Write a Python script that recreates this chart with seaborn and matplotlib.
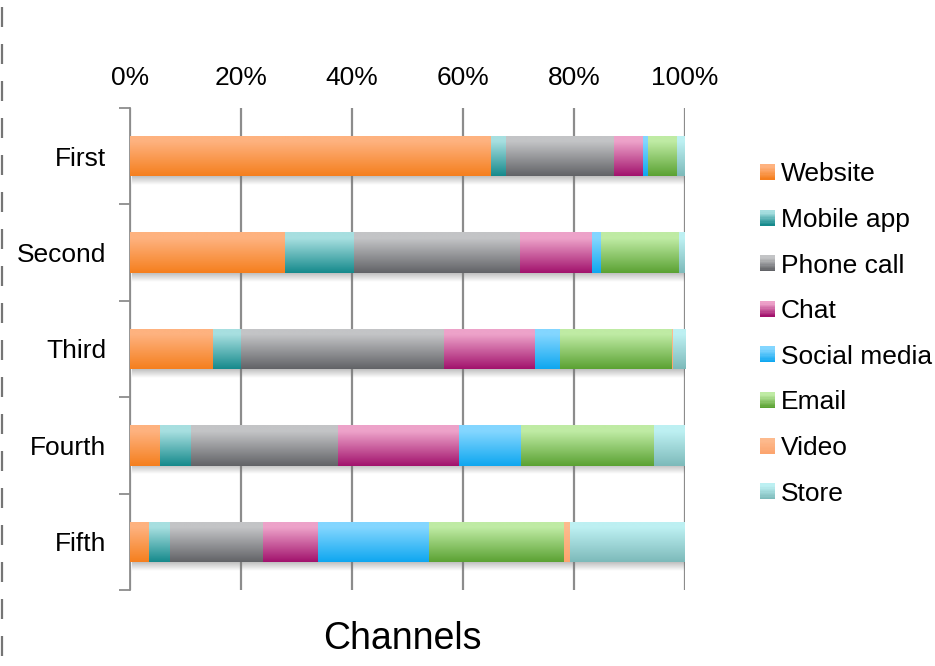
import numpy as np
import pandas as pd
import matplotlib
matplotlib.use("Agg")
import matplotlib.pyplot as plt
import seaborn as sns
from matplotlib.colors import to_rgb
from matplotlib.patches import Rectangle
from matplotlib.legend_handler import HandlerBase
from matplotlib.lines import Line2D

# Share of contacts per channel (%), by contact order
ranks = ["First", "Second", "Third", "Fourth", "Fifth"]
channels = ["Website", "Mobile app", "Phone call", "Chat", "Social media",
            "Email", "Video", "Store"]
website = [65.0, 27.8, 14.9, 5.3, 3.3]
mobile_app = [2.7, 12.5, 5.0, 5.6, 3.8]
phone_call = [19.5, 29.8, 36.6, 26.4, 16.8]
chat = [5.1, 13.1, 16.4, 21.9, 9.8]
social_media = [1.0, 1.6, 4.4, 11.1, 20.0]
email = [5.2, 14.1, 20.2, 24.1, 24.4]
video = [0.0, 0.0, 0.2, 0.0, 1.0]
store = [1.5, 1.1, 2.3, 5.6, 20.9]
ticks = [0, 20, 40, 60, 80, 100]

series = [website, mobile_app, phone_call, chat, social_media, email, video, store]

# (top, bottom) colours of each channel's vertical gradient
gradients = {
    "Website": ("#FEB27F", "#F57F1E"),
    "Mobile app": ("#A7DFE0", "#168A8C"),
    "Phone call": ("#C3C4C6", "#626367"),
    "Chat": ("#EDA2C9", "#A2136D"),
    "Social media": ("#83D6FF", "#0FA7F0"),
    "Email": ("#BFEBA4", "#5BA233"),
    "Video": ("#FDBA8D", "#FCA56F"),
    "Store": ("#BDF0F2", "#7DBABA"),
}

df = pd.DataFrame({c: v for c, v in zip(channels, series)}, index=ranks)
cum = df.cumsum(axis=1)

sns.set_theme(style="white")
plt.rcParams["font.family"] = ["Liberation Sans", "DejaVu Sans"]
plt.rcParams["text.color"] = "black"

fig = plt.figure(figsize=(9.35, 6.66), dpi=100)
ax = fig.add_axes([130 / 935, 1 - 590 / 666, 555 / 935, 482 / 666])

BAR_W = 0.42


def grad_array(top, bottom, n=64):
    t = np.linspace(0, 1, n)[:, None]
    t = np.clip((t - 0.15) / 0.85, 0, 1)
    a = np.array(to_rgb(top))
    b = np.array(to_rgb(bottom))
    return (a * (1 - t) + b * t)[:, None, :]


# soft shadow under each bar
for i, r in enumerate(ranks):
    yb = i + BAR_W / 2
    sh = np.zeros((32, 1, 4))
    sh[:, 0, :3] = 0.45
    sh[:, 0, 3] = np.linspace(0.45, 0.0, 32)
    ax.imshow(sh, extent=(0.4, cum.loc[r].iloc[-1] + 0.6, yb + 0.09, yb),
              aspect="auto", zorder=1, interpolation="bilinear")

# stacked bars: draw cumulative totals from the last channel back to the first
for k, ch in enumerate(reversed(channels)):
    z = 2 + k
    plot_df = pd.DataFrame({"rank": ranks, "value": cum[ch].values})
    n_before = len(ax.patches)
    sns.barplot(data=plot_df, x="value", y="rank", orient="h",
                color=gradients[ch][0], width=BAR_W, ax=ax,
                linewidth=0, zorder=z, saturation=1)
    img = grad_array(*gradients[ch])
    for p in ax.patches[n_before:]:
        x0, y0, w, h = p.get_x(), p.get_y(), p.get_width(), p.get_height()
        if w <= 0:
            continue
        im = ax.imshow(img, extent=(x0, x0 + w, y0 + h, y0), aspect="auto",
                       zorder=z + 0.5, interpolation="bilinear")
        im.set_clip_path(p)

ax.set_xlim(0, 100)
ax.set_ylim(4.5, -0.5)

# axes styling
for s in ["top", "right", "bottom"]:
    ax.spines[s].set_visible(False)
ax.spines["left"].set_color("#8C8C8C")
ax.spines["left"].set_linewidth(1.3)

ax.xaxis.tick_top()
ax.set_xticks(ticks)
ax.set_xticklabels([f"{t}%" for t in ticks])
ax.tick_params(axis="x", length=0, pad=13, labelsize=19, labelcolor="black")
ax.grid(axis="x", color="#8C8C8C", linewidth=1.6, zorder=0)
ax.set_axisbelow(True)

ax.set_yticks(range(len(ranks)))
ax.set_yticklabels(ranks)
ax.set_yticks(np.arange(-0.5, len(ranks), 1.0), minor=True)
ax.tick_params(axis="y", which="major", length=0, pad=17, labelsize=19,
               labelcolor="black")
ax.tick_params(axis="y", which="minor", length=8, width=1.3,
               color="#8C8C8C", left=True)
ax.set_ylabel("")
ax.set_xlabel("")
ax.text(0.49, -0.102, "Channels", transform=ax.transAxes, ha="center",
        va="center", fontsize=27, color="black")


class GradientHandler(HandlerBase):
    def __init__(self, top, bottom):
        super().__init__()
        self.top, self.bottom = top, bottom

    def create_artists(self, legend, orig_handle, xdescent, ydescent,
                       width, height, fontsize, trans):
        cols = grad_array(self.top, self.bottom, 12)[:, 0, :]
        n = len(cols)
        arts = []
        for i, c in enumerate(cols):
            arts.append(Rectangle((-xdescent, -ydescent + height * (1 - (i + 1) / n)),
                                  width, height / n + 0.05, facecolor=c,
                                  linewidth=0, transform=trans))
        return arts


proxies = [Rectangle((0, 0), 1, 1) for _ in channels]
hmap = {p: GradientHandler(*gradients[c]) for p, c in zip(proxies, channels)}
leg = fig.legend(proxies, channels, handler_map=hmap, loc="center left",
                 bbox_to_anchor=(760 / 935, 1 - 334 / 666), frameon=False,
                 fontsize=19, handlelength=0.55, handleheight=0.55,
                 handletextpad=0.25, labelspacing=0.82, borderpad=0,
                 borderaxespad=0)
for t in leg.get_texts():
    t.set_color("black")

# dashed border line on the left edge
fig.add_artist(Line2D([1.5 / 935, 1.5 / 935], [1 - 1 / 666, 0],
                      transform=fig.transFigure, color="#757575",
                      linewidth=1.6, linestyle=(13.95, (9.0, 7.65))))

fig.savefig("out.png", dpi=100)
